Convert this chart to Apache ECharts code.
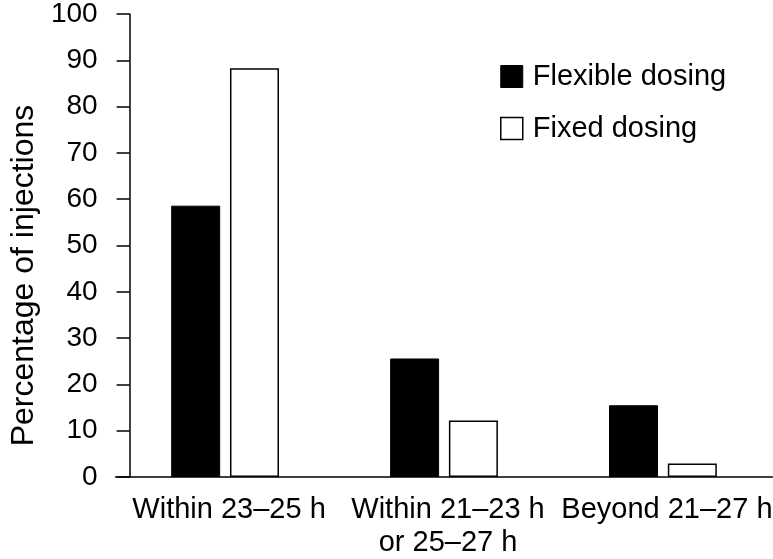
<!DOCTYPE html>
<html>
<head>
<meta charset="utf-8">
<script src="https://cdn.jsdelivr.net/npm/echarts@6/dist/echarts.min.js"></script>
<style>html,body{margin:0;padding:0;background:#fff}#c{width:773px;height:559px}</style>
</head>
<body>
<div id="c"></div>
<script>
const categories = ['Within 23\u201325 h', 'Within 21\u201323 h\nor 25\u201327 h', 'Beyond 21\u201327 h'];
const flexibleDosing = [58.6, 25.6, 15.5];
const fixedDosing = [88.3, 12.2, 2.9];
const seriesNames = ['Flexible dosing', 'Fixed dosing'];
const yAxisTitle = 'Percentage of injections';

const FONT = '"Liberation Sans", Arial, sans-serif';
const chart = echarts.init(document.getElementById('c'), null, {renderer: 'canvas'});
chart.setOption({
  animation: false,
  backgroundColor: '#fff',
  grid: {left: 106, width: 672, top: 10, bottom: 77, containLabel: false},
  legend: {
    orient: 'vertical',
    left: 495,
    top: 57,
    itemWidth: 22,
    itemHeight: 22,
    itemGap: 23,
    textStyle: {fontFamily: FONT, fontSize: 29, color: '#000', padding: [0, 0, 0, 5]},
    data: [
      {name: seriesNames[0], icon: 'rect', itemStyle: {color: '#000', borderColor: '#000', borderWidth: 1}},
      {name: seriesNames[1], icon: 'rect', itemStyle: {color: '#fff', borderColor: '#000', borderWidth: 1.5}}
    ]
  },
  xAxis: {
    type: 'category',
    data: categories,
    axisLine: {lineStyle: {color: '#000', width: 1.5}},
    axisTick: {show: false},
    axisLabel: {fontFamily: FONT, fontSize: 29, color: '#000', lineHeight: 33, margin: 16, interval: 0, padding: [0, 0, 0, 8]}
  },
  yAxis: {
    type: 'value',
    min: 0, max: 100, interval: 10,
    offset: -14,
    name: yAxisTitle,
    nameLocation: 'middle',
    nameRotate: 90,
    nameGap: 84,
    nameTextStyle: {fontFamily: FONT, fontSize: 32, color: '#000', padding: [0, 60, 0, 0]},
    axisLine: {show: true, lineStyle: {color: '#000', width: 1.5}},
    axisTick: {show: true, length: 13, lineStyle: {color: '#000', width: 1.5}},
    axisLabel: {fontFamily: FONT, fontSize: 28, color: '#000', margin: 32},
    splitLine: {show: false}
  },
  series: [
    {
      name: seriesNames[0], type: 'bar', data: flexibleDosing,
      barWidth: 49, barGap: '20%',
      itemStyle: {color: '#000', borderColor: '#000', borderWidth: 1}
    },
    {
      name: seriesNames[1], type: 'bar', data: fixedDosing,
      barWidth: 49,
      itemStyle: {color: '#fff', borderColor: '#000', borderWidth: 1.5}
    }
  ]
});
</script>
</body>
</html>
